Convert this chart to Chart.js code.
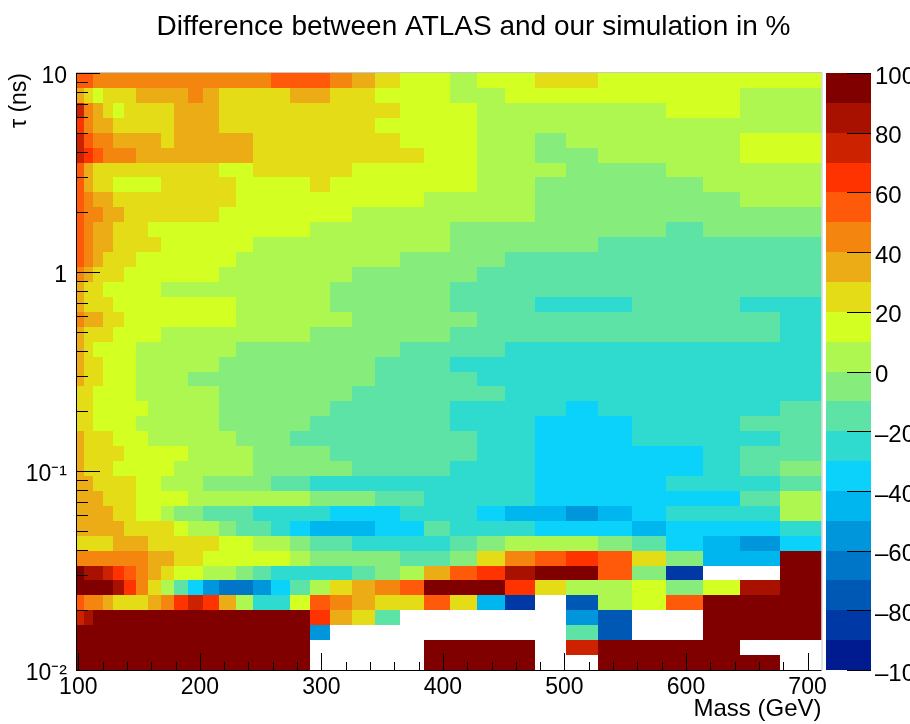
<!DOCTYPE html>
<html>
    <head>
        <meta charset="utf-8">
        <script src="https://cdn.jsdelivr.net/npm/chart.js@4/dist/chart.umd.js"></script>
        <style>
            html, body { margin: 0; padding: 0; background: #fff; overflow: hidden; width: 910px; height: 724px; }
            #wrap { position: relative; width: 910px; height: 724px; overflow: hidden; }
            canvas { position: absolute; top: 0; display: block; }
            #heat { left: 0; }
            #palette { left: 820px; }
        </style>
    </head>

    <body>
        <div id="wrap">
            <canvas id="heat" width="947" height="724"></canvas>
            <canvas id="palette" width="90" height="724"></canvas>
        </div>

        <script>
            // bin edges (mass bins get wider to the right, tau bins are even in log)
            const massEdges = [98.1, 104.7, 112.4, 120.3, 128.8, 137.9, 147.5, 157.4, 168.1, 178.8, 190.6, 202.9, 216.1, 229.6, 243.8, 258.7, 274.3, 290.8, 307.5, 325.4, 344.3, 364.3, 384.6, 406.0, 428.3, 451.3, 476.0, 501.3, 527.9, 555.3, 583.9, 613.8, 644.8, 677.2, 711.5];
            const tauEdges = [0.01, 0.01189, 0.01413, 0.01679, 0.01995, 0.02371, 0.02818, 0.0335, 0.03981, 0.04732, 0.05623, 0.06683, 0.07943, 0.0944, 0.1122, 0.1334, 0.1585, 0.1884, 0.2239, 0.2661, 0.3162, 0.3758, 0.4467, 0.5309, 0.631, 0.7499, 0.8913, 1.059, 1.259, 1.496, 1.778, 2.113, 2.512, 2.985, 3.548, 4.217, 5.012, 5.957, 7.079, 8.414, 10];

            const massTicks = [100, 200, 300, 400, 500, 600, 700];
            const massMinorTicks = [120, 140, 160, 180, 220, 240, 260, 280, 320, 340, 360, 380, 420, 440, 460, 480, 520, 540, 560, 580, 620, 640, 660, 680];
            const tauTicks = [0.01, 0.1, 1, 10];
            const tauTickLabels = ['10\u207B\u00B2', '10\u207B\u00B9', '1', '10'];
            const tauMinorTicks = [0.02, 0.03, 0.04, 0.05, 0.06, 0.07, 0.08, 0.09, 0.2, 0.3, 0.4, 0.5, 0.6, 0.7, 0.8, 0.9, 2, 3, 4, 5, 6, 7, 8, 9];
            const paletteTicks = [-100, -80, -60, -40, -20, 0, 20, 40, 60, 80, 100];

            const paletteEdges = [-100, -90, -80, -70, -60, -50, -40, -30, -20, -10, 0, 10, 20, 30, 40, 50, 60, 70, 80, 90, 100];
            const paletteColors = ['#001A90', '#0038A5', '#0058B5', '#0076C8', '#0096DC', '#00B6EE', '#0BD2FB', '#2FDACF', '#5CE3A5', '#86EC7C', '#AEF750', '#D3FF22', '#E4DC16', '#ECAC15', '#F4850F', '#FF5A0A', '#FF3300', '#CC2200', '#A81000', '#800000'];

            const _ = null; // empty bin
            // difference in %, top row (tau = 10) first, one column per mass bin
            const diffRows = [
                [55,55,45,45,45,45,45,45,45,45,45,45,45,45,45,55,55,55,45,35,25,15,15,5,15,15,25,25,15,15,15,15,15,15],
                [35,25,15,25,25,25,35,35,35,35,45,35,25,25,25,25,35,35,25,25,15,15,15,5,5,15,15,15,15,15,15,15,5,5],
                [75,45,35,25,15,25,25,25,25,35,35,35,25,25,25,25,25,25,25,25,25,15,15,15,5,5,5,5,5,5,15,15,5,5],
                [65,45,35,35,25,25,25,25,25,35,35,35,25,25,25,25,25,25,25,25,15,15,15,15,5,5,5,5,5,5,5,5,5,5],
                [75,55,45,45,35,35,35,35,25,35,35,35,35,35,25,25,25,25,25,25,25,15,15,15,5,5,-5,5,5,5,5,5,15,15],
                [75,65,55,45,45,45,35,35,35,35,35,35,35,35,25,25,25,25,25,25,25,25,15,15,5,5,-5,-5,5,5,5,5,15,15],
                [55,35,25,25,25,25,25,25,25,25,25,25,15,15,25,25,25,25,25,15,15,15,15,15,5,5,5,-5,-5,-5,5,5,5,5],
                [55,35,25,25,15,15,15,15,25,25,25,25,25,15,15,15,15,25,15,15,15,15,15,15,5,5,-5,-5,-5,-5,-5,5,5,5],
                [55,45,35,35,25,25,25,25,25,25,25,25,25,15,15,15,15,15,15,15,15,15,5,5,5,5,-5,-5,-5,-5,-5,-5,5,5],
                [55,45,45,35,35,25,25,25,25,25,25,25,15,15,15,15,15,15,15,5,5,5,5,5,5,5,-5,-5,-5,-5,-5,-5,-5,-5],
                [55,45,35,35,25,25,25,15,15,15,15,15,15,15,15,15,15,5,5,5,5,5,5,-5,-5,-5,-5,-5,-5,-5,-15,-5,-5,-5],
                [55,45,35,35,25,25,25,25,15,15,15,15,15,15,5,5,5,5,5,5,5,5,5,-5,-5,-5,-5,-5,-15,-15,-15,-15,-15,-15],
                [55,45,35,25,25,25,15,15,15,15,15,15,15,5,5,5,5,5,5,5,5,-5,-5,-5,-5,-15,-15,-15,-15,-15,-15,-15,-15,-15],
                [45,35,25,25,25,15,15,15,15,15,15,15,5,5,5,5,5,5,5,-5,-5,-5,-5,-5,-15,-15,-15,-15,-15,-15,-15,-15,-15,-15],
                [35,25,25,15,15,15,15,15,5,5,5,5,5,5,5,5,5,5,-5,-5,-5,-5,-5,-15,-15,-15,-15,-15,-15,-15,-15,-15,-15,-15],
                [35,25,25,25,15,15,15,15,15,15,15,15,15,5,5,5,5,5,-5,-5,-5,-5,-5,-15,-15,-15,-25,-25,-25,-15,-15,-15,-25,-25],
                [45,35,35,25,25,15,15,15,15,15,15,15,15,5,5,5,5,5,5,-5,-5,-5,-5,-5,-15,-15,-15,-15,-15,-15,-15,-15,-15,-25],
                [35,25,25,25,15,15,15,15,5,5,5,5,5,5,5,5,5,-5,-5,-5,-5,-5,-5,-15,-15,-15,-15,-15,-15,-15,-15,-15,-15,-25],
                [35,25,15,15,15,15,5,5,5,5,5,5,5,-5,-5,-5,-5,-5,-5,-5,-5,-15,-15,-15,-15,-25,-25,-25,-25,-25,-25,-25,-25,-25],
                [35,25,25,15,15,15,5,5,5,5,5,5,-5,-5,-5,-5,-5,-5,-5,-5,-15,-15,-15,-25,-25,-25,-25,-25,-25,-25,-25,-25,-25,-25],
                [35,25,25,15,15,15,5,5,5,5,-5,-5,-5,-5,-5,-5,-5,-5,-5,-5,-15,-15,-15,-15,-25,-25,-25,-25,-25,-25,-25,-25,-25,-25],
                [25,25,15,15,15,15,5,5,5,5,5,5,-5,-5,-5,-5,-5,-5,-5,-15,-15,-15,-15,-15,-15,-25,-25,-25,-25,-25,-25,-25,-25,-25],
                [25,25,15,15,15,15,15,5,5,5,5,5,-5,-5,-5,-5,-5,-5,-15,-15,-15,-15,-15,-25,-25,-25,-25,-35,-25,-25,-25,-25,-25,-15],
                [25,25,15,15,15,15,5,5,5,5,5,5,-5,-5,-5,-5,-5,-15,-15,-15,-15,-15,-15,-25,-25,-25,-35,-35,-35,-25,-25,-25,-15,-15],
                [35,25,25,25,15,15,15,5,5,5,5,5,5,-5,-5,-5,-15,-15,-15,-15,-15,-15,-15,-15,-25,-25,-35,-35,-35,-25,-25,-25,-25,-15],
                [35,25,25,25,25,15,15,15,15,15,5,5,5,5,-5,-5,-5,-5,-15,-15,-15,-15,-15,-15,-25,-25,-35,-35,-35,-35,-35,-25,-15,-15],
                [35,25,25,25,15,15,15,15,15,5,5,5,5,5,-5,-5,-5,-5,-5,-15,-15,-15,-15,-25,-25,-25,-35,-35,-35,-35,-35,-25,-15,-5],
                [35,35,25,25,25,25,15,15,5,5,5,-5,-5,-5,-5,-15,-15,-25,-25,-25,-25,-25,-25,-25,-25,-25,-35,-35,-35,-35,-25,-25,-25,-15],
                [35,35,35,25,25,25,15,15,15,15,5,5,5,5,5,5,5,-5,-5,-5,-15,-15,-25,-25,-25,-25,-35,-35,-35,-35,-35,-35,-15,5],
                [35,35,35,35,25,25,15,15,5,-5,-5,-15,-15,-15,-25,-25,-25,-25,-35,-35,-35,-25,-25,-25,-35,-45,-45,-55,-45,-35,-25,-25,-25,5],
                [35,35,35,35,35,25,25,25,25,15,5,5,-5,-15,-15,-25,-35,-45,-45,-45,-35,-35,-15,-25,-25,-25,-35,-35,-35,-45,-35,-35,-35,-25],
                [25,25,25,25,35,35,35,25,25,25,25,25,15,15,5,5,-5,-15,-15,-25,-25,-25,-25,-15,-5,5,5,5,-5,-15,-35,-45,-55,-35],
                [45,45,45,45,45,45,45,35,35,25,25,15,15,15,15,15,5,-5,-5,-5,-5,-15,-15,-5,25,45,55,65,55,25,-5,-45,-45,95],
                [95,85,85,75,65,55,45,35,25,15,15,5,5,-5,-15,-25,-25,-25,-25,-15,-5,5,35,55,65,85,95,95,55,-5,-85,_,_,95],
                [95,95,95,95,85,65,45,25,5,-15,-35,-55,-65,-65,-55,-35,-15,5,25,35,45,55,95,95,95,65,25,5,5,15,-5,15,85,95],
                [55,45,45,35,25,25,25,35,45,65,75,65,35,5,-25,-25,15,55,45,35,25,25,55,25,-45,-85,_,-75,5,15,55,95,95,95],
                [75,85,95,95,95,95,95,95,95,95,95,95,95,95,95,95,95,65,35,25,-15,_,_,_,_,_,_,-55,-75,_,_,95,95,95],
                [95,95,95,95,95,95,95,95,95,95,95,95,95,95,95,95,95,-55,_,_,_,_,_,_,_,_,_,-15,-75,_,_,95,95,95],
                [95,95,95,95,95,95,95,95,95,95,95,95,95,95,95,95,95,_,_,_,_,_,95,95,95,95,_,75,95,95,95,95,_,_],
                [95,95,95,95,95,95,95,95,95,95,95,95,95,95,95,95,95,_,_,_,_,_,95,95,95,95,_,_,95,95,95,95,95,_]
            ];

            const fontFamily = '"Liberation Sans", Helvetica, Arial, sans-serif';

            function colorFor(v) {
                return paletteColors[Math.min(19, Math.floor((v + 100) / 10))];
            }

            // build the cells
            const cells = [];
            diffRows.forEach((row, r) => {
                const t = 39 - r;
                row.forEach((v, c) => {
                    if (v === null) return;
                    cells.push({
                        x: (massEdges[c] + massEdges[c + 1]) / 2,
                        y: [tauEdges[t], tauEdges[t + 1]],
                        m0: massEdges[c],
                        m1: massEdges[c + 1],
                        v: v
                    });
                });
            });

            // Bars share one thickness by default, the mass bins don't. Resize from the x scale, snap to pixels
            const snapBars = {
                id: 'snapBars',
                afterDatasetsUpdate(chart) {
                    const meta = chart.getDatasetMeta(0);
                    const raw = chart.data.datasets[0].data;
                    const xs = chart.scales.x;
                    meta.data.forEach((bar, i) => {
                        if (raw[i].m0 !== undefined) {
                            const l = Math.round(xs.getPixelForValue(raw[i].m0));
                            const r = Math.round(xs.getPixelForValue(raw[i].m1));
                            bar.x = (l + r) / 2;
                            bar.width = r - l;
                        }
                        bar.y = Math.round(bar.y);
                        bar.base = Math.round(bar.base);
                    });
                }
            };

            // ROOT style ticks pointing into the plot
            function yTick(ctx, area, scale, v, len, fromRight) {
                const p = Math.round(scale.getPixelForValue(v)) + 0.5;
                ctx.moveTo(fromRight ? area.right : area.left, p);
                ctx.lineTo(fromRight ? area.right - len : area.left + len, p);
            }

            const heatFrame = {
                id: 'heatFrame',
                afterDatasetsDraw(chart) {
                    const { ctx, chartArea: a, scales } = chart;
                    ctx.save();
                    ctx.lineWidth = 1;
                    ctx.strokeStyle = '#c8c8c8';
                    ctx.beginPath();
                    ctx.moveTo(a.left, a.top - 0.5);
                    ctx.lineTo(a.right + 0.5, a.top - 0.5);
                    ctx.lineTo(a.right + 0.5, a.bottom);
                    ctx.stroke();

                    ctx.strokeStyle = '#000';
                    ctx.beginPath();
                    ctx.moveTo(a.left + 0.5, a.top);
                    ctx.lineTo(a.left + 0.5, a.bottom + 0.5);
                    ctx.lineTo(a.right, a.bottom + 0.5);
                    for (const v of tauTicks) yTick(ctx, a, scales.y, v, 24, false);
                    for (const v of tauMinorTicks) yTick(ctx, a, scales.y, v, 12, false);
                    for (const v of massTicks) {
                        const p = Math.round(scales.x.getPixelForValue(v)) + 0.5;
                        ctx.moveTo(p, a.bottom);
                        ctx.lineTo(p, a.bottom - 17);
                    }
                    for (const v of massMinorTicks) {
                        const p = Math.round(scales.x.getPixelForValue(v)) + 0.5;
                        ctx.moveTo(p, a.bottom);
                        ctx.lineTo(p, a.bottom - 8);
                    }
                    ctx.stroke();
                    ctx.restore();
                }
            };

            const paletteFrame = {
                id: 'paletteFrame',
                afterDatasetsDraw(chart) {
                    const { ctx, chartArea: a, scales } = chart;
                    ctx.save();
                    ctx.lineWidth = 1;
                    ctx.strokeStyle = '#000';
                    ctx.beginPath();
                    for (const v of paletteTicks) yTick(ctx, a, scales.y, v, 24, true);
                    ctx.stroke();
                    ctx.restore();
                }
            };

            new Chart(document.getElementById('heat'), {
                type: 'bar',
                data: {
                    datasets: [{
                        label: 'Difference (%)',
                        data: cells,
                        backgroundColor: c => c.raw ? colorFor(c.raw.v) : '#fff',
                        borderWidth: 0,
                        inflateAmount: 0,
                        barPercentage: 1,
                        categoryPercentage: 1
                    }]
                },
                options: {
                    responsive: false,
                    animation: false,
                    events: [],
                    plugins: {
                        legend: { display: false },
                        tooltip: { enabled: false },
                        title: {
                            display: true,
                            text: 'Difference between ATLAS and our simulation in %',
                            color: '#000',
                            font: { family: fontFamily, size: 28, weight: 'normal', lineHeight: 1.2 },
                            padding: { top: 10, bottom: 29.4 }
                        }
                    },
                    scales: {
                        x: {
                            type: 'linear',
                            offset: false,
                            min: massEdges[0],
                            max: massEdges[massEdges.length - 1],
                            grid: { display: false, drawTicks: false },
                            border: { display: false },
                            afterBuildTicks: s => { s.ticks = massTicks.map(v => ({ value: v })); },
                            afterFit: s => { s.height = 54; },
                            ticks: {
                                color: '#000',
                                font: { family: fontFamily, size: 23 },
                                padding: 4,
                                autoSkip: false,
                                maxRotation: 0,
                                callback: v => String(v)
                            },
                            title: {
                                display: true,
                                text: 'Mass (GeV)',
                                align: 'end',
                                color: '#000',
                                font: { family: fontFamily, size: 24 },
                                padding: { top: 0, bottom: 0 }
                            }
                        },
                        y: {
                            type: 'logarithmic',
                            min: 0.01,
                            max: 10,
                            grid: { display: false, drawTicks: false },
                            border: { display: false },
                            afterBuildTicks: s => { s.ticks = tauTicks.map(v => ({ value: v })); },
                            afterFit: s => { s.width = 76; },
                            ticks: {
                                color: '#000',
                                font: { family: fontFamily, size: 23 },
                                padding: 9,
                                labelOffset: 4,
                                autoSkip: false,
                                callback: v => tauTickLabels[tauTicks.indexOf(v)]
                            },
                            title: {
                                display: true,
                                text: '\u03C4 (ns)',
                                align: 'end',
                                color: '#000',
                                font: { family: fontFamily, size: 23 },
                                padding: { top: 6, bottom: 0 }
                            }
                        },
                        // empty box, keeps the plot area away from the right edge so the title centres like the original
                        gap: {
                            position: 'right',
                            grid: { display: false, drawTicks: false },
                            border: { display: false },
                            ticks: { display: false },
                            afterFit: s => { s.width = 125.5; }
                        }
                    }
                },
                plugins: [snapBars, heatFrame]
            });

            const paletteBars = paletteColors.map((c, i) => ({ x: 'z', y: [paletteEdges[i], paletteEdges[i + 1]] }));

            new Chart(document.getElementById('palette'), {
                type: 'bar',
                data: {
                    labels: ['z'],
                    datasets: [{
                        label: 'Palette',
                        data: paletteBars,
                        backgroundColor: paletteColors,
                        borderWidth: 0,
                        inflateAmount: 0,
                        barPercentage: 1,
                        categoryPercentage: 1
                    }]
                },
                options: {
                    responsive: false,
                    animation: false,
                    events: [],
                    layout: { padding: { left: 6, right: 0, top: 73, bottom: 54 } },
                    plugins: { legend: { display: false }, tooltip: { enabled: false } },
                    scales: {
                        x: { display: false },
                        y: {
                            position: 'right',
                            min: -100,
                            max: 100,
                            grid: { display: false, drawTicks: false },
                            border: { display: false },
                            afterBuildTicks: s => { s.ticks = paletteTicks.map(v => ({ value: v })); },
                            afterFit: s => { s.width = 39; },
                            ticks: {
                                color: '#000',
                                font: { family: fontFamily, size: 24 },
                                padding: 4,
                                labelOffset: 4,
                                autoSkip: false,
                                callback: v => String(v).replace('-', '\u2013')
                            }
                        }
                    }
                },
                plugins: [snapBars, paletteFrame]
            });
        </script>
    </body>
</html>
